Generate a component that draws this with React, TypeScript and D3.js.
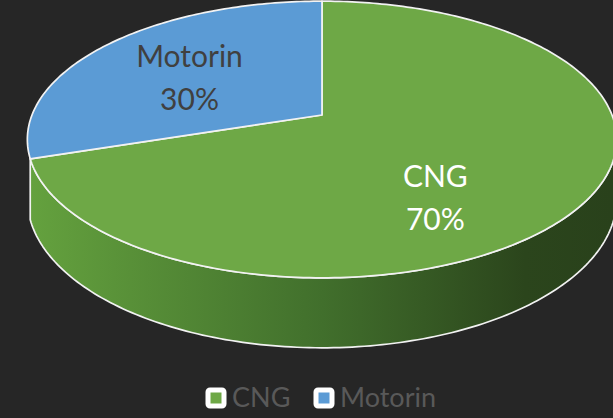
import React, { useEffect } from 'react';
import * as d3 from 'd3';

// chart data
const categories = ['CNG', 'Motorin'];
const shares = [70, 30];
const topColors = ['#6ea846', '#5b9bd5'];
const labelColors = ['#ffffff', '#404040'];

const width = 613;
const height = 418;

// perspective "camera" for the 3d pie (fitted by eye)
const cx = 322;
const cy = 115;
const rx = 290;
const ry = 134;
const persp = 0.177;
const depth = 57.6;

// (theta clockwise from 12 o'clock, radius 0..1, z 0=top 1=bottom)
const proj = (theta: number, r = 1, z = 0): [number, number] => {
  const X = r * Math.sin(theta);
  const Y = r * Math.cos(theta);
  const w = 1 + persp * Y;
  return [cx + (rx * X) / w, cy + (-ry * Y + depth * z) / w];
};

const sampleArc = (a0: number, a1: number, z: number) => {
  const n = Math.max(2, Math.ceil((Math.abs(a1 - a0) * 180) / Math.PI));
  return d3.range(n + 1).map(i => proj(a0 + ((a1 - a0) * i) / n, 1, z));
};

const line = d3.line();

export default function App() {
  useEffect(() => {
    document.body.style.margin = '0';
    document.body.style.background = '#262626';
  }, []);

  const pie = d3.pie<number>().sort(null).value(d => d);
  const arcs = pie(shares);

  // visible part of the side wall (excel hides the thin sliver past the big slice)
  const silR = Math.PI - Math.acos(persp);
  const silL = Math.min(Math.PI + Math.acos(persp), arcs[0].endAngle);

  const walls = arcs
    .map((a, i) => {
      const a0 = Math.max(a.startAngle, silR);
      const a1 = Math.min(a.endAngle, silL);
      if (a1 <= a0) return null;
      const pts = [...sampleArc(a0, a1, 0), ...sampleArc(a1, a0, 1)];
      return { i, d: line(pts) + 'Z' };
    })
    .filter(Boolean) as { i: number; d: string }[];

  const tops = arcs.map((a, i) => {
    const pts = [proj(0, 0), ...sampleArc(a.startAngle, a.endAngle, 0)];
    return { i, d: line(pts) + 'Z' };
  });

  // label anchors (radius / drop into the wall), per slice
  const labelPlace = [
    { r: 0.46, z: 0.62 },
    { r: 0.6, z: 0 },
  ];

  const legendX = d3.scaleOrdinal<string, number>().domain(categories).range([216, 324]);

  return (
    <svg width={width} height={height} style={{ display: 'block', background: '#262626' }}>
      <defs>
        <linearGradient id="wall0" gradientUnits="userSpaceOnUse" x1={cx - rx} x2={cx + rx} y1={0} y2={0}>
          <stop offset="0" stopColor="#64a13e" />
          <stop offset="0.5" stopColor="#416f2c" />
          <stop offset="0.85" stopColor="#2b451c" />
          <stop offset="1" stopColor="#29411b" />
        </linearGradient>
        <linearGradient id="wall1" gradientUnits="userSpaceOnUse" x1={cx - rx} x2={cx + rx} y1={0} y2={0}>
          <stop offset="0" stopColor="#5290c8" />
          <stop offset="1" stopColor="#1f3e5c" />
        </linearGradient>
      </defs>
      {walls.map(w => (
        <path key={'w' + w.i} d={w.d} fill={`url(#wall${w.i})`} stroke="#f2f2f2" strokeWidth={1.7} strokeLinejoin="round" />
      ))}
      {tops.map(t => (
        <path key={'t' + t.i} d={t.d} fill={topColors[t.i]} stroke="#f2f2f2" strokeWidth={1.7} strokeLinejoin="round" />
      ))}
      {arcs.map((a, i) => {
        const mid = (a.startAngle + a.endAngle) / 2;
        const [x, y] = proj(mid, labelPlace[i].r, labelPlace[i].z);
        return (
          <text
            key={'l' + i}
            x={x}
            y={y}
            textAnchor="middle"
            fill={labelColors[i]}
            style={{ fontFamily: 'Lato, "Open Sans", sans-serif', fontSize: 30 }}
          >
            <tspan x={x} dy="-0.12em">{categories[i]}</tspan>
            <tspan x={x} dy="1.42em">{shares[i]}%</tspan>
          </text>
        );
      })}
      {categories.map((c, i) => (
        <g key={'g' + c} transform={`translate(${legendX(c)},398)`}>
          <rect x={-8} y={-8} width={16} height={16} rx={2} fill={topColors[i]} stroke="#ffffff" strokeWidth={5} />
          <text x={16} y={9} fill="#595959" style={{ fontFamily: 'Lato, "Open Sans", sans-serif', fontSize: 27 }}>
            {c}
          </text>
        </g>
      ))}
    </svg>
  );
}
